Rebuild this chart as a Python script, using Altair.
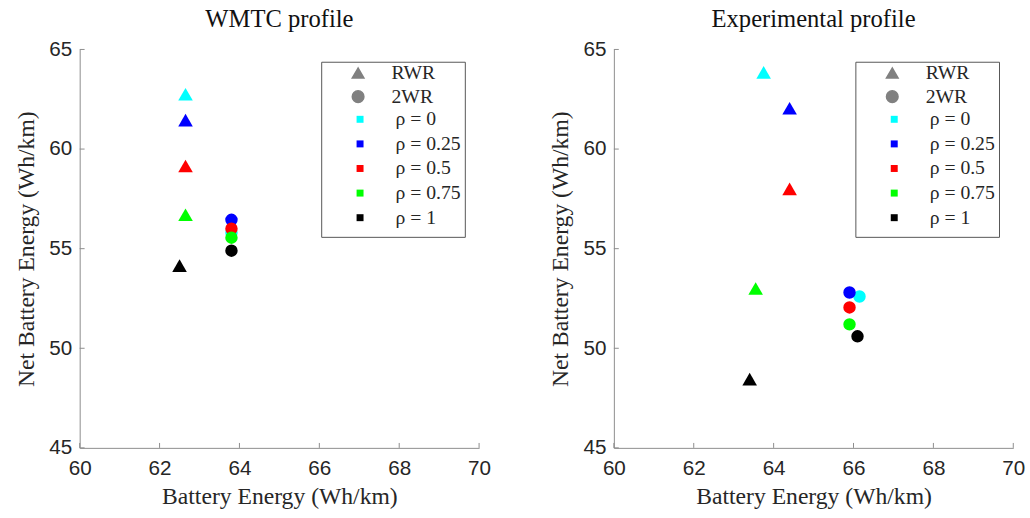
import altair as alt
import pandas as pd

rho_labels = ["ρ = 0", "ρ = 0.25", "ρ = 0.5", "ρ = 0.75", "ρ = 1"]
rho_colors = ["#00FFFF", "#0000FF", "#FF0000", "#00FF00", "#000000"]
types = ["RWR", "2WR"]
type_shapes = ["triangle-up", "circle"]

wmtc_rwr_x = [62.65, 62.65, 62.65, 62.65, 62.5]
wmtc_rwr_y = [62.75, 61.45, 59.15, 56.7, 54.15]
wmtc_2wr_x = [63.8, 63.8, 63.8, 63.8, 63.8]
wmtc_2wr_y = [55.8, 56.45, 56.0, 55.55, 54.9]

exp_rwr_x = [63.75, 64.4, 64.4, 63.55, 63.4]
exp_rwr_y = [63.85, 62.05, 58.0, 53.0, 48.45]
exp_2wr_x = [66.15, 65.9, 65.9, 65.9, 66.1]
exp_2wr_y = [52.6, 52.8, 52.05, 51.2, 50.6]

x_ticks = [60, 62, 64, 66, 68, 70]
y_ticks = [45, 50, 55, 60, 65]

W, H = 406, 405
SERIF = "Liberation Serif"
SANS = "Liberation Sans"
AXIS_GRAY = "#8c8c8c"
TEXT = "#262626"


def make_df(rx, ry, cx, cy):
    rows = []
    for i, lab in enumerate(rho_labels):
        rows.append({"x": rx[i], "y": ry[i], "rho": lab, "type": "RWR", "ord": 2 * i})
        rows.append({"x": cx[i], "y": cy[i], "rho": lab, "type": "2WR", "ord": 2 * i + 1})
    return pd.DataFrame(rows)


def axis(values, title, lp, tp):
    return alt.Axis(values=values, title=title, grid=False, ticks=False, tickSize=0,
                    labelFlush=False, labelOverlap=False,
                    labelPadding=lp, titlePadding=tp, domainColor=AXIS_GRAY,
                    labelFont=SANS, labelFontSize=21, labelColor=TEXT,
                    titleFont=SERIF, titleFontSize=24, titleFontWeight="normal", titleColor=TEXT)


def panel(df, title):
    xs = alt.Scale(domain=[60, 70], nice=False)
    ys = alt.Scale(domain=[45, 65], nice=False)
    enc = dict(
        x=alt.X("x:Q", scale=xs, axis=axis(x_ticks, "Battery Energy (Wh/km)", 10, 7)),
        y=alt.Y("y:Q", scale=ys, axis=axis(y_ticks, "Net Battery Energy (Wh/km)", 8, 11)),
        color=alt.Color("rho:N", scale=alt.Scale(domain=rho_labels, range=rho_colors),
                        legend=alt.Legend(title=None, orient="none", legendX=275, legendY=61,
                                          symbolType="square", symbolSize=50,
                                          labelFont=SERIF, labelFontSize=20, labelColor=TEXT,
                                          labelOffset=26, rowPadding=5)),
        shape=alt.Shape("type:N", scale=alt.Scale(domain=types, range=type_shapes),
                        legend=alt.Legend(title=None, orient="none", legendX=273, legendY=14,
                                          symbolSize=140, symbolFillColor="#808080",
                                          symbolStrokeColor="#808080",
                                          labelFont=SERIF, labelFontSize=20, labelColor=TEXT,
                                          labelOffset=24, rowPadding=4)),
        order=alt.Order("ord:Q"),
    )
    tri = alt.Chart(df).transform_filter(alt.datum.type == "RWR").mark_point(
        filled=True, opacity=1, size=220).encode(**enc)
    cir = alt.Chart(df).transform_filter(alt.datum.type == "2WR").mark_point(
        filled=True, opacity=1, size=160).encode(**enc)
    xt = alt.Chart(pd.DataFrame({"v": x_ticks})).mark_rule(color=AXIS_GRAY, strokeWidth=1).encode(
        x=alt.X("v:Q", scale=xs), y=alt.value(H), y2=alt.value(H - 5))
    yt = alt.Chart(pd.DataFrame({"v": y_ticks})).mark_rule(color=AXIS_GRAY, strokeWidth=1).encode(
        y=alt.Y("v:Q", scale=ys), x=alt.value(0), x2=alt.value(5))
    box = alt.Chart(pd.DataFrame({"a": [0]})).mark_rect(fill="white", fillOpacity=0,
                                                         stroke="#555555", strokeWidth=1).encode(
        x=alt.value(246), x2=alt.value(392), y=alt.value(13), y2=alt.value(191))
    return alt.layer(box, xt, yt, tri, cir).properties(
        width=W, height=H,
        title=alt.TitleParams(title, font=SERIF, fontSize=25, fontWeight="normal",
                              color="#111111", offset=7),
    )


left = panel(make_df(wmtc_rwr_x, wmtc_rwr_y, wmtc_2wr_x, wmtc_2wr_y), "WMTC profile")
right = panel(make_df(exp_rwr_x, exp_rwr_y, exp_2wr_x, exp_2wr_y), "Experimental profile")

chart = alt.hconcat(left, right, spacing=58).resolve_legend(
    color="independent", shape="independent"
).resolve_scale(color="independent", shape="independent").properties(
    padding={"left": 14, "top": 3, "right": 5, "bottom": 5}, background="white"
).configure_view(stroke=None)

chart.save("out.html", embed_options={"renderer": "svg", "actions": False})
